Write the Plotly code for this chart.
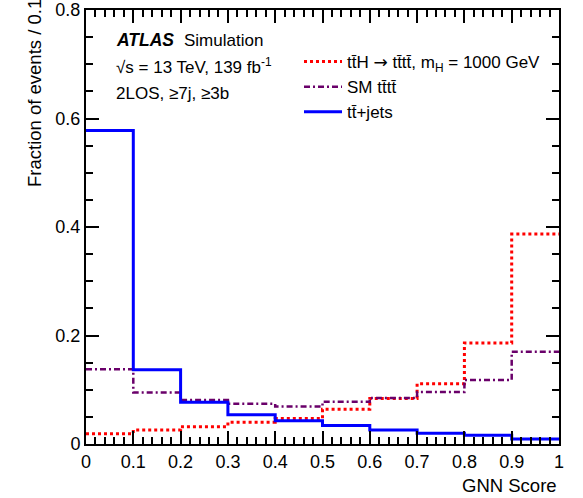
import plotly.graph_objects as go

# GNN score binning (10 bins of width 0.1)
bin_edges = [0.0, 0.1, 0.2, 0.3, 0.4, 0.5, 0.6, 0.7, 0.8, 0.9, 1.0]

# Normalised fraction of events per bin
tth_1000 = [0.019, 0.026, 0.032, 0.040, 0.047, 0.064, 0.084, 0.111, 0.186, 0.387]
sm_tttt = [0.138, 0.095, 0.081, 0.074, 0.069, 0.078, 0.085, 0.096, 0.118, 0.170]
ttbar_jets = [0.578, 0.137, 0.077, 0.054, 0.043, 0.034, 0.026, 0.020, 0.016, 0.009]

x_ticks = [0, 0.1, 0.2, 0.3, 0.4, 0.5, 0.6, 0.7, 0.8, 0.9, 1]
x_tick_text = ["0", "0.1", "0.2", "0.3", "0.4", "0.5", "0.6", "0.7", "0.8", "0.9", "1"]
y_ticks = [0, 0.2, 0.4, 0.6, 0.8]
y_tick_text = ["0", "0.2", "0.4", "0.6", "0.8"]

TB = "t\u0304"  # t with overbar
FONT = "Liberation Sans, Arial, Helvetica, sans-serif"
ARROW = '<span style="font-family:DejaVu Sans">\u2192</span>'

W, H = 583, 498
ML, MR, MT, MB = 86, 24, 10, 54
PW, PH = W - ML - MR, H - MT - MB


def px_x(p):
    return (p - ML) / PW


def px_y(p):
    return (H - MB - p) / PH


def step(vals):
    return vals + [vals[-1]]


fig = go.Figure()

series = [
    (f"t{TB}H {ARROW} t{TB}t{TB}, m<sub>H</sub> = 1000 GeV", tth_1000,
     dict(color="#ff0000", width=3, dash="dot")),
    (f"SM t{TB}t{TB}", sm_tttt,
     dict(color="#6a006a", width=2.5, dash="6px,3px,2px,3px")),
    (f"t{TB}+jets", ttbar_jets,
     dict(color="#0000ff", width=3)),
]
for i, (name, vals, line) in enumerate(series):
    fig.add_trace(go.Scatter(
        x=bin_edges, y=step(vals), mode="lines", line_shape="hv",
        line=line, name=name, legendgroup=f"g{i}", cliponaxis=True,
    ))

axis_common = dict(
    showline=True, linecolor="black", linewidth=2, mirror="allticks",
    ticks="inside", ticklen=13, tickwidth=2, tickcolor="black",
    showgrid=False, zeroline=False, automargin=False,
    tickfont=dict(family=FONT, size=18, color="black"),
)

fig.update_xaxes(
    range=[0, 1], tickvals=x_ticks, ticktext=x_tick_text,
    minor=dict(dtick=0.02, ticks="inside", ticklen=7, tickwidth=2,
               tickcolor="black", showgrid=False),
    **axis_common,
)
fig.update_yaxes(
    range=[0, 0.8], tickvals=y_ticks, ticktext=y_tick_text,
    minor=dict(dtick=0.05, ticks="inside", ticklen=7, tickwidth=2,
               tickcolor="black", showgrid=False),
    **axis_common,
)

ann = []
ann.append(dict(text="Fraction of events / 0.1", textangle=-90,
                x=px_x(35), y=px_y(-3), xanchor="center", yanchor="top",
                font=dict(size=18.5)))
ann.append(dict(text="GNN Score", x=1.0, y=px_y(497.5),
                xanchor="right", yanchor="bottom", font=dict(size=18.5)))
ann.append(dict(text="<b><i>ATLAS</i></b>", x=px_x(114), y=px_y(40),
                xanchor="left", yanchor="middle", font=dict(size=17.5)))
ann.append(dict(text="Simulation", x=px_x(182), y=px_y(40),
                xanchor="left", yanchor="middle", font=dict(size=17)))
ann.append(dict(text="\u221as = 13 TeV, 139 fb<sup>-1</sup>", x=px_x(114),
                y=px_y(66), xanchor="left", yanchor="middle",
                font=dict(size=17)))
ann.append(dict(text="2LOS, \u22657j, \u22653b", x=px_x(114), y=px_y(93),
                xanchor="left", yanchor="middle", font=dict(size=17)))
for a in ann:
    a.update(xref="paper", yref="paper", showarrow=False)
    a["font"].update(family=FONT, color="black")

fig.update_layout(
    width=W, height=H,
    margin=dict(l=ML, r=MR, t=MT, b=MB, pad=0, autoexpand=False),
    paper_bgcolor="white", plot_bgcolor="white",
    font=dict(family=FONT, color="black"),
    annotations=ann,
    showlegend=True,
    legend=dict(
        x=px_x(299), y=px_y(44), xanchor="left", yanchor="top",
        bgcolor="rgba(0,0,0,0)", borderwidth=0,
        font=dict(family=FONT, size=17, color="black"),
        tracegroupgap=1, traceorder="normal", itemwidth=38,
    ),
)

fig.write_html("out.html")
